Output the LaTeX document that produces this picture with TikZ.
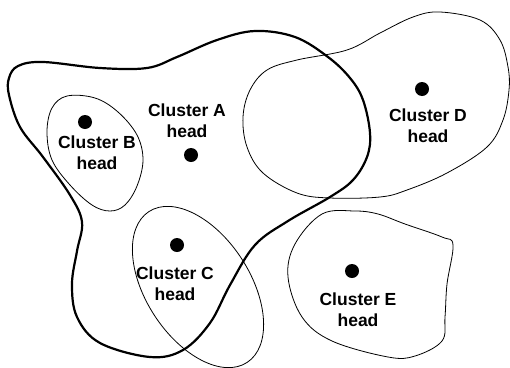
\documentclass[tikz,border=0pt]{standalone}
\usepackage{fontspec}
\setmainfont{Liberation Sans}
\usetikzlibrary{positioning}

\begin{document}
\begin{tikzpicture}[x=1pt,y=-1pt,
                    border/.style={line width=0.8pt},
                    cluster/.style={line width=2.2pt},
                    head/.style={circle,fill,inner sep=0pt,minimum size=14pt},
                    lbl/.style={align=center,inner sep=0pt,
                                font=\fontsize{17.5}{21}\selectfont\bfseries}]
                \useasboundingbox (0,0) rectangle (510,367);
                % cluster A (thick)
                \draw[cluster] plot[smooth cycle, tension=0.6] coordinates {
                    (18,66) (43,62) (100,68) (147,68) (177,57) (217,40) (255,31)
                    (295,37) (328,57) (350,78) (363,100) (370,133) (367,157)
                    (353,180) (330,197) (288,221) (255,245) (230,285) (210,323)
                    (183,350) (150,357) (100,343) (77,317) (72,284) (77,251)
                    (82,222) (70,195) (43,157) (20,127) (9,95) (9,78)};
                % cluster B
                \draw[border] plot[smooth cycle, tension=0.6] coordinates {
                    (67,96) (95,98) (118,112) (137,135) (143,160) (137,186)
                    (125,205) (110,211) (92,205) (70,185) (52,160) (47,132) (52,108)};
                % cluster C
                \draw[border, rotate around={-57:(198,287)}] (198,287)
                    ellipse [x radius=90pt, y radius=52pt];
                % cluster D
                \draw[border] plot[smooth cycle, tension=0.6] coordinates {
                    (440,12) (480,20) (500,40) (508,67) (509,90) (503,120)
                    (487,147) (447,173) (407,190) (380,197) (330,198) (297,193)
                    (263,173) (247,147) (243,117) (250,90) (267,70) (297,60)
                    (347,50) (380,33) (413,17)};
                % cluster E
                \draw[border] plot[smooth cycle, tension=0.6] coordinates {
                    (355,211) (378,214) (405,224) (442,237) (453,245) (447,284)
                    (445,317) (442,341) (415,356) (388,357) (332,341) (302,317)
                    (288,277) (295,244) (322,214)};
                % heads
                \node[head] (ha) at (191,155) {};
                \node[head] (hb) at (85,122) {};
                \node[head] (hc) at (177,245) {};
                \node[head] (hd) at (422,89) {};
                \node[head] (he) at (352,271) {};
                \node[lbl] (la) at (187,121) {Cluster A\\head};
                \node[lbl] (lb) at (97,153) {Cluster B\\head};
                \node[lbl] (lc) at (175,284) {Cluster C\\head};
                \node[lbl] (ld) at (428,126) {Cluster D\\head};
                \node[lbl] (le) at (358,310) {Cluster E\\head};
\end{tikzpicture}
\end{document}
